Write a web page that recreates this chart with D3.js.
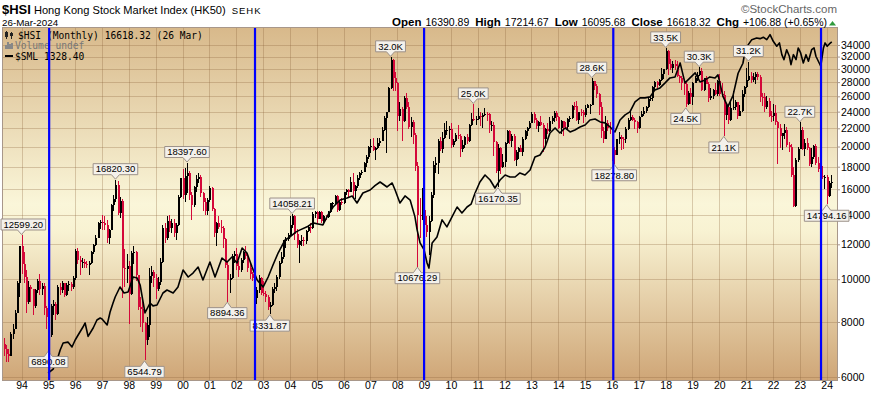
<!DOCTYPE html>
<html>
<head>
<meta charset="utf-8">
<script src="https://cdn.jsdelivr.net/npm/d3@7"></script>
<style>
  body { margin: 0; background: #fff; }
  svg { display: block; }
  text { font-family: "Liberation Sans", Arial, sans-serif; }
</style>
</head>
<body>
<svg id="chart" width="874" height="393"></svg>
<script>
// ---- data ----
// monthly bars, first bar = April 1993
const startYear = 1993, startMonth = 3;
const firstOpen = 7000;

const hsiClose = [
  7120, 6950, 6750, 6700, 7500, 7700, 8400, 9800, 11888,                               // 1993
  10800, 10100, 8900, 9600, 9500, 8700, 9450, 9900, 9500, 9650, 8600, 8191,            // 1994
  7460, 8700, 8800, 8330, 9600, 9440, 9790, 9220, 9700, 9730, 9600, 10073,             // 1995
  11600, 11050, 10950, 10960, 10800, 10780, 10900, 11550, 11950, 12400, 13400, 13451,  // 1996
  13400, 13300, 12400, 12900, 14750, 15200, 16360, 14140, 15050, 10620, 10530, 10722,  // 1997
  9250, 11480, 11520, 10200, 8640, 8540, 7950, 7275, 7880, 10150, 10400, 10049,        // 1998
  9510, 9860, 10940, 13100, 12400, 13530, 13100, 13400, 12700, 13260, 15380, 16962,    // 1999
  15530, 17170, 17400, 15520, 14710, 16160, 16840, 17100, 15650, 15000, 14300, 15096,  // 2000
  16100, 14440, 12760, 13390, 13170, 13040, 12320, 10770, 9950, 10070, 11280, 11397,   // 2001
  10730, 10480, 11030, 11500, 11300, 10600, 10270, 10040, 9070, 9440, 10070, 9321,     // 2002
  9260, 9120, 8630, 8720, 9490, 9580, 10130, 10900, 11230, 12190, 12320, 12576,        // 2003
  13290, 13910, 12680, 11940, 12200, 12290, 12240, 12850, 13120, 13050, 14060, 14230,  // 2004
  13720, 14200, 13520, 13910, 13870, 14200, 14880, 14900, 15430, 14390, 14940, 14876,  // 2005
  15750, 15920, 15800, 16660, 15860, 16270, 16970, 17390, 17540, 18320, 18960, 19965,  // 2006
  20100, 19650, 19800, 20320, 20630, 21770, 23180, 23980, 27140, 31350, 28640, 27810,  // 2007
  23460, 24330, 22850, 25760, 24530, 22100, 22730, 21260, 18020, 13970, 13890, 14387,  // 2008
  13280, 12810, 13580, 15520, 18170, 18380, 20570, 19720, 20960, 21750, 21820, 21873,  // 2009
  20120, 20610, 21240, 21110, 19770, 20130, 21030, 20540, 22360, 23100, 23010, 23035,  // 2010
  23450, 23340, 23530, 23720, 23680, 22400, 22440, 20530, 17590, 19860, 17990, 18434,  // 2011
  20390, 21680, 20560, 21090, 18630, 19440, 19800, 19480, 20840, 21640, 22030, 22657,  // 2012
  23730, 23020, 22300, 22740, 22390, 20800, 21880, 21730, 22860, 23210, 23880, 23306,  // 2013
  22030, 22840, 22150, 22130, 23080, 23190, 24760, 24740, 22930, 23990, 23987, 23605,  // 2014
  24510, 24820, 24900, 28130, 27420, 26250, 24640, 21670, 20850, 22640, 21996, 21914,  // 2015
  19680, 19110, 20780, 21070, 20820, 20790, 21890, 22980, 23300, 22930, 22790, 22000,  // 2016
  23360, 23740, 24110, 24615, 25660, 25760, 27320, 27970, 27550, 28250, 29180, 29919,  // 2017
  32890, 30840, 30090, 30810, 30470, 28960, 28580, 27890, 27790, 24980, 26510, 25846,  // 2018
  27940, 28630, 29050, 29700, 26900, 28540, 27780, 25720, 26090, 26900, 26350, 28190,  // 2019
  26310, 26130, 23600, 24640, 22960, 24430, 24600, 25180, 23460, 24100, 26340, 27231,  // 2020
  28280, 28980, 28380, 28720, 29150, 28830, 25960, 25880, 24580, 25380, 23480, 23398,  // 2021
  23800, 22710, 21997, 21090, 21415, 21860, 20160, 19955, 17220, 14690, 18600, 19781,  // 2022
  21840, 19790, 20400, 19890, 18230, 18920, 20080, 18380, 17810, 17110, 17040, 17047,  // 2023
  15485, 16511, 16618.32                                                                // 2024
];

const hsiHigh = [
  7450, 7350, 7100, 6950, 7600, 7900, 8500, 9900, 11900,
  12599.2, 11500, 10500, 9900, 9700, 9500, 9500, 10000, 10300, 9800, 9800, 8700,
  8200, 8800, 8950, 8900, 9700, 9800, 9900, 9800, 9780, 9900, 9850, 10150,
  11700, 11800, 11300, 11200, 11100, 11000, 11000, 11600, 12000, 12600, 13500, 13600,
  14000, 13900, 13600, 13000, 14800, 15500, 16820.3, 16700, 15400, 15200, 11700, 11400,
  11000, 11600, 11900, 11600, 10200, 9100, 9000, 8000, 8200, 10600, 10700, 10500,
  10300, 10100, 11200, 13300, 13400, 13900, 14000, 13700, 13700, 13400, 15500, 17000,
  17800, 17900, 18397.6, 17600, 15800, 16300, 17200, 17400, 17200, 15800, 15300, 15300,
  16300, 16200, 14500, 13500, 13900, 13600, 13200, 12400, 11000, 10300, 11400, 11600,
  11800, 11000, 11200, 11600, 11900, 11300, 10800, 10400, 10100, 9600, 10200, 10100,
  9900, 9400, 9200, 8900, 9600, 9800, 10200, 11000, 11500, 12300, 12500, 12700,
  13900, 14058.21, 14000, 13000, 12300, 12600, 12500, 12900, 13300, 13400, 14200, 14300,
  14300, 14300, 14250, 13950, 14000, 14300, 14900, 15000, 15500, 15500, 15100, 15300,
  15800, 16000, 16000, 17100, 17400, 16400, 17200, 17500, 17700, 18400, 19100, 20050,
  20800, 20900, 19900, 20900, 20900, 22100, 23500, 24000, 27300, 31958, 31600, 29500,
  28000, 25200, 24600, 26000, 26390, 25300, 23300, 23000, 21500, 18400, 15300, 16100,
  15600, 13900, 13900, 15800, 18500, 18900, 20800, 21000, 21600, 22600, 22900, 22300,
  22600, 20800, 21500, 22400, 21300, 20700, 21100, 21300, 22500, 23800, 24988, 23400,
  24400, 24000, 23800, 24500, 24000, 23800, 22900, 22700, 20600, 20300, 20000, 19200,
  20500, 21800, 21800, 21300, 21400, 19600, 19900, 20200, 21000, 21800, 22200, 22800,
  23950, 23900, 23200, 22800, 23500, 22600, 22000, 22600, 23300, 23500, 24100, 24100,
  23400, 23000, 22900, 22700, 23200, 23400, 24800, 25200, 25400, 24000, 24300, 24200,
  24900, 25000, 25000, 28588, 28200, 27700, 26400, 25200, 22200, 23400, 23000, 22700,
  22100, 19900, 20800, 21600, 21200, 21000, 22100, 23200, 24100, 23600, 23200, 22900,
  23400, 24100, 24600, 24700, 25800, 26100, 27400, 28200, 28100, 28500, 30200, 30000,
  33484, 33200, 31600, 31200, 31500, 31300, 29100, 28900, 28000, 28000, 26700, 27100,
  28000, 28900, 29500, 30280, 30100, 28600, 28900, 28000, 27100, 27000, 27800, 28300,
  29200, 27900, 26800, 24800, 24900, 25300, 26800, 25500, 25300, 24900, 26900, 27400,
  30200, 31183, 29500, 29300, 29500, 29500, 29000, 26400, 26500, 26100, 25800, 24100,
  25000, 24900, 22900, 22500, 21500, 22500, 22200, 20500, 20300, 18000, 18800, 20000,
  22700, 22200, 20800, 20900, 20000, 19800, 20200, 20300, 18900, 18100, 18100, 17200,
  17200, 16700, 17214.67
];

const hsiLow = [
  6900, 6700, 6500, 6500, 6800, 7300, 7700, 8400, 9100,
  10300, 9800, 8400, 8800, 8900, 8300, 8600, 9300, 9200, 9200, 8300, 7700,
  6890.08, 7400, 8300, 8100, 8300, 9200, 9300, 9100, 9150, 9400, 9400, 9500,
  9950, 10800, 10200, 10600, 10600, 10600, 10200, 10800, 11400, 11900, 12400, 13000,
  12900, 12900, 12100, 12000, 12900, 14300, 15000, 14000, 13800, 9059, 9600, 9800,
  7909, 9200, 10800, 9900, 8500, 7800, 7600, 6544.79, 7100, 7400, 9800, 9600,
  9000, 9400, 9700, 10900, 12100, 12300, 12800, 12700, 12500, 12300, 13200, 15300,
  15200, 15000, 15700, 15100, 13600, 14600, 15800, 16500, 15400, 14300, 14000, 14000,
  15000, 14300, 12500, 11900, 13000, 12700, 11800, 10600, 8894.36, 9300, 10000, 10900,
  10500, 10100, 10400, 10900, 11100, 10400, 10000, 9900, 9000, 8800, 9300, 9200,
  9150, 8900, 8500, 8331.87, 8700, 9300, 9400, 10000, 10800, 11100, 11800, 12200,
  12500, 13100, 12300, 11800, 10900, 11900, 11900, 12000, 12800, 12700, 13000, 13800,
  13400, 13700, 13400, 13300, 13600, 13800, 14100, 14400, 14700, 14200, 14300, 14700,
  14800, 15500, 15300, 15800, 15300, 15200, 16100, 16800, 17200, 17500, 18000, 18700,
  19300, 19500, 18600, 19700, 20100, 20600, 21700, 19386, 23900, 27000, 26800, 26800,
  21710, 22800, 20570, 22700, 24300, 21900, 21000, 20300, 17600, 10676.29, 12400, 13600,
  12600, 12500, 11345, 13500, 15300, 17400, 17300, 19500, 19300, 20800, 21200, 20800,
  19800, 19900, 20500, 20800, 18970, 19400, 19800, 20300, 20500, 22300, 22800, 22400,
  23000, 22300, 22000, 23400, 22900, 21500, 21700, 19000, 17400, 16170.35, 17300, 17900,
  18000, 20300, 20300, 20000, 18500, 18050, 18700, 19400, 19000, 20700, 21100, 21900,
  22600, 22600, 21900, 21600, 22300, 19400, 20100, 21400, 21600, 22500, 22700, 22800,
  21900, 21400, 21100, 21900, 21900, 22700, 23100, 24200, 22800, 22500, 23400, 22600,
  23300, 24400, 23700, 24900, 26900, 25800, 23600, 20865, 20400, 20800, 21700, 21400,
  18534, 18278.8, 19100, 20300, 19600, 19700, 20400, 21800, 22800, 22800, 21900, 21500,
  21900, 23300, 23500, 23800, 24400, 25400, 25400, 26700, 27100, 27400, 28100, 28500,
  29900, 29100, 29800, 29400, 29900, 28700, 27800, 26900, 26200, 24541, 24900, 25000,
  24900, 27900, 28100, 28900, 26700, 26700, 27700, 25300, 25500, 25600, 26200, 26000,
  26100, 25900, 21139, 23000, 22500, 22900, 24200, 24200, 23100, 23400, 24000, 25900,
  27200, 28200, 27800, 28000, 27700, 28300, 25200, 24700, 23900, 24300, 23300, 22700,
  22900, 22400, 18235, 19800, 19600, 20800, 19900, 19400, 17100, 14597, 14600, 18400,
  19700, 19600, 19000, 19600, 18100, 18000, 18700, 18200, 17500, 16800, 16900, 16000,
  14794.16, 15400, 16095.68
];

// $SML overlay, traced in the chart's own price units (decimal year, value)
const smlDate = [
  1994.99, 1995.18, 1995.36, 1995.44, 1995.55, 1995.73, 1995.88, 1996.00, 1996.11, 1996.29,
  1996.37, 1996.48, 1996.67, 1996.81, 1996.93, 1997.00, 1997.19, 1997.30, 1997.41, 1997.49,
  1997.67, 1997.82, 1997.97, 1998.16, 1998.31, 1998.42, 1998.60, 1998.79, 1998.90, 1999.05,
  1999.27, 1999.42, 1999.65, 1999.83, 2000.02, 2000.21, 2000.39, 2000.58, 2000.76, 2001.02,
  2001.21, 2001.47, 2001.66, 2001.84, 2002.03, 2002.22, 2002.40, 2002.59, 2002.78, 2003.00,
  2003.19, 2003.37, 2003.56, 2003.82, 2004.00, 2004.23, 2004.38, 2004.64, 2004.86, 2005.05,
  2005.23, 2005.42, 2005.61, 2005.87, 2006.13, 2006.32, 2006.50, 2006.72, 2006.99, 2007.17,
  2007.36, 2007.62, 2007.81, 2007.92, 2008.10, 2008.29, 2008.48, 2008.66, 2008.74, 2008.85,
  2009.00, 2009.11, 2009.18, 2009.30, 2009.48, 2009.67, 2009.85, 2010.04, 2010.23, 2010.41,
  2010.60, 2010.75, 2010.90, 2011.08, 2011.27, 2011.46, 2011.64, 2011.83, 2012.02, 2012.20,
  2012.39, 2012.57, 2012.76, 2012.95, 2013.13, 2013.32, 2013.51, 2013.69, 2013.88, 2014.06,
  2014.25, 2014.44, 2014.62, 2014.81, 2015.00, 2015.18, 2015.37, 2015.56, 2015.74, 2015.93,
  2016.11, 2016.30, 2016.49, 2016.67, 2016.86, 2017.05, 2017.23, 2017.42, 2017.60, 2017.79,
  2017.98, 2018.16, 2018.35, 2018.54, 2018.72, 2018.91, 2019.10, 2019.28, 2019.47, 2019.65,
  2019.84, 2019.95, 2020.14, 2020.32, 2020.51, 2020.70, 2020.88, 2020.96, 2021.08, 2021.21,
  2021.39, 2021.52, 2021.64, 2021.77, 2021.89, 2022.01, 2022.14, 2022.24, 2022.33, 2022.41,
  2022.51, 2022.61, 2022.67, 2022.76, 2022.86, 2022.94, 2023.03, 2023.13, 2023.23, 2023.32,
  2023.44, 2023.53, 2023.60, 2023.69, 2023.78, 2023.88, 2023.94, 2024.02, 2024.10, 2024.19
];
const smlValue = [
  6127, 6256, 6661, 6909, 7166, 7200, 7018, 7280, 7472, 7791,
  7956, 7420, 7750, 8082, 8166, 8125, 7873, 8426, 8832, 9113,
  9601, 9306, 9352, 10117, 10060, 9703, 8383, 8832, 8700, 8740,
  9306, 9452, 9306, 9601, 10492, 10117, 10329, 10658, 9960, 10941,
  10117, 11172, 10941, 11231, 10884, 11771, 11467, 10658, 9960, 9601,
  10117, 10771, 11467, 12277, 12471, 12806, 12941, 13147, 13424, 13350,
  13284, 14000, 14583, 15126, 15285, 15450, 14891, 15690, 15938, 16300,
  16618, 16191, 16532, 15938, 14891, 15450, 15126, 13850, 12941, 12086,
  11652, 10884, 10600, 12086, 12471, 13637, 13147, 13850, 14583, 14135,
  14583, 14800, 15690, 16618, 17237, 16793, 16107, 16793, 17237, 17058,
  17058, 17419, 17237, 17695, 18939, 19139, 19956, 21470, 22038, 21470,
  22038, 21582, 21811, 22155, 22388, 22980, 23102, 22746, 22628, 22155,
  21582, 22980, 23594, 23965, 25252, 25785, 25785, 25920, 26886, 27167,
  27888, 28623, 28772, 30955, 27888, 28623, 29380, 28033, 28327, 28772,
  28600, 29077, 25950, 24640, 26094, 29330, 30900, 32900, 34060, 34960,
  35270, 35140, 35400, 34960, 35880, 34660, 33770, 34360, 32320, 31490,
  33170, 32050, 30680, 32320, 31490, 33470, 32610, 30950, 32320, 31230,
  33170, 33470, 32050, 31230, 30420, 33470, 34360, 33770, 34180, 34540
];

// labelled highs / lows
const annoLabel = ["12599.20", "6890.08", "16820.30", "6544.79", "18397.60", "8894.36", "8331.87",
  "14058.21", "32.0K", "10676.29", "25.0K", "16170.35", "28.6K", "18278.80", "33.5K", "24.5K",
  "30.3K", "21.1K", "31.2K", "22.7K", "14794.16"];
const annoDate = [1994.0, 1995.0, 1997.5, 1998.583, 2000.167, 2001.667, 2003.25, 2004.083,
  2007.75, 2008.75, 2010.833, 2011.75, 2015.25, 2016.083, 2018.0, 2018.75, 2019.25, 2020.167,
  2021.083, 2023.0, 2024.0];
const annoValue = [12599.2, 6890.08, 16820.3, 6544.79, 18397.6, 8894.36, 8331.87, 14058.21,
  31958, 10676.29, 24988, 16170.35, 28588, 18278.8, 33484, 24541, 30280, 21139, 31183, 22700,
  14794.16];
const annoSide = ["hi", "lo", "hi", "lo", "hi", "lo", "lo", "hi", "hi", "lo", "hi", "lo", "hi",
  "lo", "hi", "lo", "hi", "lo", "hi", "hi", "lo"];

// blue marker lines (decimal year)
const blueLines = [1995.03, 2002.70, 2009.0, 2016.05, 2023.79];

const yTicks = [6000, 8000, 10000, 12000, 14000, 16000, 18000, 20000, 22000, 24000,
  26000, 28000, 30000, 32000, 34000];
const yearTicks = d3.range(1994, 2025);

const headerLabels = ["Open", "High", "Low", "Close", "Chg"];
const headerValues = ["16390.89", "17214.67", "16095.68", "16618.32", "+106.88 (+0.65%)"];

// ---- chart ----
const svg = d3.select("#chart");
const plot = { l: 3, r: 837, t: 28, b: 380 };

const x = d3.scaleLinear().domain([1993.31, 2024.385]).range([plot.l, plot.r]);
const y = d3.scaleLog().domain([5907, 37150]).range([plot.b, plot.t]);

const defs = svg.append("defs");
const grad = defs.append("linearGradient").attr("id", "bg")
  .attr("x1", 0).attr("y1", 0).attr("x2", 0).attr("y2", 1);
grad.append("stop").attr("offset", "0%").attr("stop-color", "#d8b98b");
grad.append("stop").attr("offset", "50%").attr("stop-color", "#faf6d9");
grad.append("stop").attr("offset", "58%").attr("stop-color", "#f8f2d2");
grad.append("stop").attr("offset", "100%").attr("stop-color", "#cfa677");
defs.append("clipPath").attr("id", "clip").append("rect")
  .attr("x", plot.l).attr("y", plot.t).attr("width", plot.r - plot.l).attr("height", plot.b - plot.t);

svg.append("rect").attr("x", plot.l).attr("y", plot.t)
  .attr("width", plot.r - plot.l).attr("height", plot.b - plot.t)
  .attr("fill", "url(#bg)");

// grid
const grid = svg.append("g").attr("stroke", "rgba(140,100,60,0.3)").attr("shape-rendering", "crispEdges");
grid.selectAll(".vg").data(yearTicks).enter().append("line")
  .attr("x1", d => Math.round(x(d)) + 0.5).attr("x2", d => Math.round(x(d)) + 0.5)
  .attr("y1", plot.t).attr("y2", plot.b);
grid.selectAll(".hg").data(yTicks).enter().append("line")
  .attr("x1", plot.l).attr("x2", plot.r)
  .attr("y1", d => Math.round(y(d)) + 0.5).attr("y2", d => Math.round(y(d)) + 0.5);

// candles
const bars = hsiClose.map((c, i) => {
  const m = startMonth + i;
  return {
    t: startYear + m / 12,
    o: i === 0 ? firstOpen : hsiClose[i - 1],   // body spans from the prior month's close
    h: hsiHigh[i], l: hsiLow[i], c: c,
    up: i === 0 ? c >= firstOpen : c >= hsiClose[i - 1]
  };
});
const red = "#d4083a";
const candles = svg.append("g").attr("clip-path", "url(#clip)").attr("shape-rendering", "crispEdges");
const cg = candles.selectAll("g").data(bars).enter().append("g");
cg.append("line")
  .attr("x1", d => Math.round(x(d.t)) + 0.5).attr("x2", d => Math.round(x(d.t)) + 0.5)
  .attr("y1", d => y(Math.max(d.h, d.o, d.c))).attr("y2", d => y(Math.min(d.l, d.o, d.c)))
  .attr("stroke", d => d.up ? "#000" : red);
cg.append("rect")
  .attr("x", d => Math.round(x(d.t)) - 0.5).attr("width", 2)
  .attr("y", d => y(Math.max(d.o, d.c)))
  .attr("height", d => Math.max(1, Math.abs(y(d.o) - y(d.c))))
  .attr("fill", d => d.up ? "#000" : red);

// $SML line
const sml = smlDate.map((t, i) => ({ t: t, v: smlValue[i] }));
svg.append("path").datum(sml).attr("clip-path", "url(#clip)")
  .attr("fill", "none").attr("stroke", "#000").attr("stroke-width", 1.6)
  .attr("stroke-linejoin", "round")
  .attr("d", d3.line().x(d => x(d.t)).y(d => y(d.v)));

// legend inside the plot
const mono = '"DejaVu Sans Mono", monospace';
const leg = svg.append("g").attr("font-family", mono).attr("font-size", 9.6);
leg.append("text").attr("x", 18).attr("y", 38.5).style("font-family", mono)
  .text("$HSI (Monthly) 16618.32 (26 Mar)");
leg.append("text").attr("x", 15).attr("y", 49).style("font-family", mono).attr("fill", "#777")
  .text("Volume undef");
leg.append("text").attr("x", 15).attr("y", 59.5).style("font-family", mono)
  .text("$SML 1328.40");
// legend icons
const ic = leg.append("g").attr("shape-rendering", "crispEdges");
[[6, 31, 39, 32, 37], [11, 31.5, 38.5, 33, 36]].forEach(a => {
  ic.append("line").attr("x1", a[0] + 0.5).attr("x2", a[0] + 0.5).attr("y1", a[1]).attr("y2", a[2]).attr("stroke", "#222");
  ic.append("rect").attr("x", a[0] - 1).attr("y", a[3]).attr("width", 3).attr("height", a[4] - a[3]).attr("fill", "#222");
});
[[5, 45], [7, 42], [9, 44], [11, 43]].forEach(a => {
  ic.append("rect").attr("x", a[0]).attr("y", a[1]).attr("width", 1.5).attr("height", 49 - a[1]).attr("fill", "#888");
});
ic.append("line").attr("x1", 5).attr("x2", 13).attr("y1", 56).attr("y2", 56).attr("stroke", "#000").attr("stroke-width", 2);

// frame
svg.append("rect").attr("x", plot.l - 0.5).attr("y", plot.t - 0.5)
  .attr("width", plot.r - plot.l + 1).attr("height", plot.b - plot.t + 1)
  .attr("fill", "none").attr("stroke", "#a8978a").attr("shape-rendering", "crispEdges");

// axes
const yAxis = svg.append("g").attr("transform", `translate(${plot.r},0)`)
  .call(d3.axisRight(y).tickValues(yTicks).tickFormat(d3.format("d")).tickSize(3).tickPadding(1));
yAxis.select(".domain").remove();
yAxis.selectAll("line").attr("stroke", "#a8978a");
yAxis.selectAll("text").attr("font-size", 10.5).attr("fill", "#000")
  .style("font-family", '"Liberation Sans", Arial, sans-serif');

const xAxis = svg.append("g").attr("transform", `translate(0,${plot.b})`)
  .call(d3.axisBottom(x).tickValues(yearTicks).tickFormat(d => String(d).slice(2)).tickSize(0).tickPadding(2));
xAxis.select(".domain").remove();
xAxis.selectAll("text").attr("font-size", 10.5).attr("fill", "#000")
  .style("font-family", '"Liberation Sans", Arial, sans-serif');

// high / low callouts (drawn over the axis labels, as in the original)
const anno = svg.append("g");
annoLabel.forEach((label, i) => {
  const px = x(annoDate[i]), py = y(annoValue[i]);
  const g = anno.append("g");
  const txt = g.append("text").text(label).attr("font-size", 9.5).attr("text-anchor", "middle");
  const w = txt.node().getComputedTextLength() + 5;
  const bh = 11;
  const bx = Math.max(1, px - w / 2);
  let path;
  let by;
  if (annoSide[i] === "hi") {
    by = py - 5 - bh;
    path = `M${bx},${by}h${w}v${bh}H${px + 4}L${px},${py - 0.5}L${px - 4},${by + bh}H${bx}Z`;
  } else {
    by = py + 6;
    path = `M${bx},${by}H${px - 4}L${px},${py + 0.5}L${px + 4},${by}H${bx + w}v${bh}H${bx}Z`;
  }
  g.insert("path", "text").attr("d", path).attr("fill", "#f4f1eb").attr("stroke", "#9c9189");
  txt.attr("x", bx + w / 2).attr("y", by + bh - 2.2).attr("fill", "#000");
});

// blue marker lines on top
svg.append("g").selectAll("line").data(blueLines).enter().append("line")
  .attr("x1", d => x(d)).attr("x2", d => x(d))
  .attr("y1", plot.t).attr("y2", plot.b)
  .attr("stroke", "#0000ff").attr("stroke-width", 2.2);

// header
const title = svg.append("text").attr("x", 2).attr("y", 14);
title.append("tspan").attr("font-weight", "bold").attr("font-size", 13).text("$HSI");
title.append("tspan").attr("dx", 3).attr("font-size", 11.1).text("Hong Kong Stock Market Index (HK50)");
title.append("tspan").attr("dx", 6).attr("font-size", 9.5).attr("letter-spacing", 1).text("SEHK");
svg.append("text").attr("x", 2).attr("y", 25.5).attr("font-size", 9.8).text("26-Mar-2024");

svg.append("text").attr("x", 837).attr("y", 13).attr("text-anchor", "end")
  .attr("font-size", 11.5).attr("fill", "#666").text("\u00a9StockCharts.com");

const hdr = svg.append("text").attr("x", 827).attr("y", 26).attr("text-anchor", "end");
headerLabels.forEach((lab, i) => {
  hdr.append("tspan").attr("dx", i === 0 ? 0 : 6).attr("font-weight", "bold").attr("font-size", 11.5).text(lab);
  hdr.append("tspan").attr("dx", 4).attr("font-size", 10.5).text(headerValues[i]);
});
svg.append("path").attr("d", "M829,25.5L832.5,21L836,25.5Z").attr("fill", "#2f9a3c");
</script>
</body>
</html>
